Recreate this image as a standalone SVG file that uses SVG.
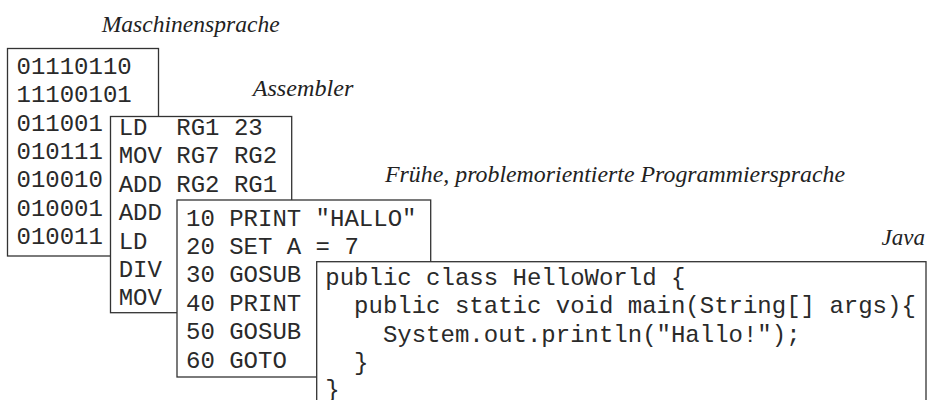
<svg xmlns="http://www.w3.org/2000/svg" width="929" height="400" viewBox="0 0 929 400">
<style>
.box{fill:#fff;stroke:#333;stroke-width:1.3}
.code{font-family:"Courier New","Liberation Mono",monospace;font-size:24px;fill:#2a2a2a;white-space:pre}
.lbl{font-family:"Palatino Linotype","Liberation Serif",serif;font-style:italic;font-size:23px;fill:#222}
</style>
<rect width="929" height="400" fill="#fff"/>
<g id="labels">
<text class="lbl" x="101.7" y="31.5" textLength="178" lengthAdjust="spacingAndGlyphs">Maschinensprache</text>
<text class="lbl" x="252.7" y="96" textLength="100.6" lengthAdjust="spacingAndGlyphs">Assembler</text>
<text class="lbl" x="385" y="181.7" textLength="460" lengthAdjust="spacingAndGlyphs">Frühe, problemorientierte Programmiersprache</text>
<text class="lbl" x="925" y="245" text-anchor="end" font-size="22">Java</text>
</g>
<g id="maschinensprache">
<rect class="box" x="7.5" y="48.5" width="151" height="207.5"/>
<text class="code" x="16.5" y="73.7">01110110</text>
<text class="code" x="16.5" y="102.1">11100101</text>
<text class="code" x="16.5" y="130.5">011001</text>
<text class="code" x="16.5" y="158.9">010111</text>
<text class="code" x="16.5" y="187.3">010010</text>
<text class="code" x="16.5" y="215.7">010001</text>
<text class="code" x="16.5" y="244.1">010011</text>
</g>
<g id="assembler">
<rect class="box" x="110.5" y="116.5" width="181.2" height="196.2"/>
<text class="code" x="118.7" y="135">LD  RG1 23</text>
<text class="code" x="118.7" y="163.4">MOV RG7 RG2</text>
<text class="code" x="118.7" y="191.8">ADD RG2 RG1</text>
<text class="code" x="118.7" y="220.2">ADD</text>
<text class="code" x="118.7" y="248.6">LD</text>
<text class="code" x="118.7" y="277">DIV</text>
<text class="code" x="118.7" y="305.4">MOV</text>
</g>
<g id="fruehe">
<rect class="box" x="177" y="200" width="253.7" height="177"/>
<text class="code" x="186" y="225.5">10 PRINT "HALLO"</text>
<text class="code" x="186" y="253.9">20 SET A = 7</text>
<text class="code" x="186" y="282.3">30 GOSUB</text>
<text class="code" x="186" y="310.7">40 PRINT</text>
<text class="code" x="186" y="339.1">50 GOSUB</text>
<text class="code" x="186" y="367.5">60 GOTO</text>
</g>
<g id="java">
<rect class="box" x="316.7" y="261.7" width="609.3" height="160"/>
<text class="code" x="325.3" y="285">public class HelloWorld {</text>
<text class="code" x="325.3" y="313.4">  public static void main(String[] args){</text>
<text class="code" x="325.3" y="341.8">    System.out.println("Hallo!");</text>
<text class="code" x="325.3" y="370.2">  }</text>
<text class="code" x="325.3" y="397">}</text>
</g>
<g id="connectors"/>
</svg>
